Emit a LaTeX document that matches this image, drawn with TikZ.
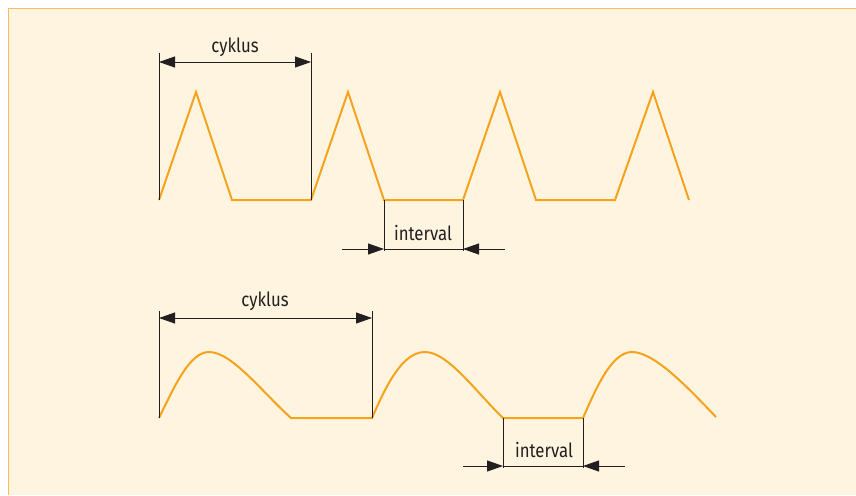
\documentclass[tikz,border=0pt]{standalone}
\usepackage{fontspec}
\setmainfont{Fira Sans}[FakeStretch=0.86]
\usepackage{tikz}
\usetikzlibrary{arrows.meta, calc}
\usepackage{xcolor}
\definecolor{cCream}{RGB}{254,244,224}
\definecolor{cFrame}{RGB}{248,190,90}
\definecolor{cWave}{RGB}{247,162,27}
\definecolor{cInk}{RGB}{35,31,32}
\tikzset{
  wave/.style={draw=cWave, line width=2pt, line join=miter},
  tickline/.style={draw=cInk, line width=0.8pt},
  dimarrow/.style={{Triangle[length=16pt,width=11pt]}-{Triangle[length=16pt,width=11pt]},
                   draw=cInk, line width=0.9pt},
  inarrow/.style={-{Triangle[length=16pt,width=11pt]}, draw=cInk, line width=0.9pt},
  dimlabel/.style={font=\fontsize{19.5}{22}\selectfont, text=cInk, inner sep=1pt}
}

\begin{document}
\begin{tikzpicture}[x=1pt, y=-1pt]
  \useasboundingbox (0,0) rectangle (856,495);
  % panel
  \fill[cCream] (8,8) rectangle (856,495);
  \draw[cFrame, line width=1.5pt] (856,8.5) -- (8.5,8.5) -- (8.5,495);

  % upper signal: triangular pulses
  \draw[wave] (159,200)
    \foreach \s in {0,152,304} {
      -- ++(37,-108) -- ++(36,108) -- ++(79,0)
    } -- ++(38,-108) -- ++(36,108);

  % upper cycle
  \coordinate (c1a) at (159,200);
  \coordinate (c1b) at (311,200);
  \draw[tickline] (c1a) -- ++(0,-147) coordinate (c1at);
  \draw[tickline] (c1b) -- ++(0,-147) coordinate (c1bt);
  \draw[dimarrow] ($(c1at)+(0,9)$) -- ($(c1bt)+(0,9)$);
  \node[dimlabel] (cyk1) at (235,47) {cyklus};

  % upper interval
  \coordinate (i1a) at (384,200);
  \coordinate (i1b) at (463,200);
  \draw[tickline] (i1a) -- ++(0,51) coordinate (i1ab);
  \draw[tickline] (i1b) -- ++(0,51) coordinate (i1bb);
  \draw[inarrow] ($(i1ab)+(-42,-2)$) -- ($(i1ab)+(0,-2)$);
  \draw[inarrow] ($(i1bb)+(42,-2)$) -- ($(i1bb)+(0,-2)$);
  \draw[tickline] ($(i1ab)+(0,-2)$) -- ($(i1bb)+(0,-2)$);
  \node[dimlabel] (int1) at (423,233) {interval};

  % lower signal: rounded pulses
  \draw[wave] (159,418)
      .. controls (175,385) and (190,352) .. (209,352)
      .. controls (232,352) and (262,392) .. (291,418)
      -- (372,418)
      .. controls (386,386) and (402,352) .. (425,352)
      .. controls (448,352) and (476,392) .. (503,418)
      -- (583,418)
      .. controls (597,386) and (612,352) .. (632,352)
      .. controls (655,352) and (690,390) .. (716,417);

  % lower cycle
  \coordinate (c2a) at (159,418);
  \coordinate (c2b) at (372,418);
  \draw[tickline] (c2a) -- ++(0,-107) coordinate (c2at);
  \draw[tickline] (c2b) -- ++(0,-107) coordinate (c2bt);
  \draw[dimarrow] ($(c2at)+(0,7)$) -- ($(c2bt)+(0,7)$);
  \node[dimlabel] (cyk2) at (265,301) {cyklus};

  % lower interval
  \coordinate (i2a) at (503,418);
  \coordinate (i2b) at (583,418);
  \draw[tickline] (i2a) -- ++(0,50) coordinate (i2ab);
  \draw[tickline] (i2b) -- ++(0,50) coordinate (i2bb);
  \draw[inarrow] ($(i2ab)+(-40,-2)$) -- ($(i2ab)+(0,-2)$);
  \draw[inarrow] ($(i2bb)+(42,-2)$) -- ($(i2bb)+(0,-2)$);
  \draw[tickline] ($(i2ab)+(0,-2)$) -- ($(i2bb)+(0,-2)$);
  \node[dimlabel] (int2) at (544,450) {interval};
\end{tikzpicture}
\end{document}
